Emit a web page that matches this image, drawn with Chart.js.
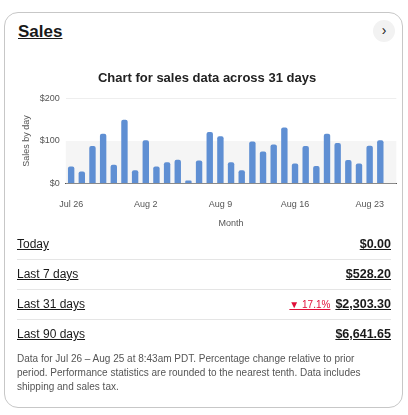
<!DOCTYPE html>
<html>
<head>
<meta charset="utf-8">
<script src="https://cdn.jsdelivr.net/npm/chart.js@4"></script>
<style>
  body { margin: 0; width: 408px; height: 415px; background: #fff; font-family: "Liberation Sans", Arial, sans-serif; color: #191919; position: relative; overflow: hidden; }
  .card { position: absolute; left: 4px; top: 12px; width: 397px; height: 394px; border: 1px solid #c7c7c7; border-radius: 14px; }
  .title { position: absolute; left: 13px; top: 9px; font-size: 17px; font-weight: bold; text-decoration: underline; }
  .btn { position: absolute; right: 7px; top: 7px; width: 22px; height: 22px; border-radius: 50%; background: #f2f2f2; font-size: 14px; text-align: center; line-height: 21px; }
  .chart { position: absolute; left: 12px; top: 58px; width: 382px; height: 162px; }
  .row { position: absolute; left: 12px; width: 374px; height: 30px; border-bottom: 1px solid #e5e5e5; font-size: 12px; display: flex; align-items: center; }
  .row span { text-decoration: underline; }
  .row .v { margin-left: auto; font-weight: bold; font-size: 12.5px; }
  .pct { color: #e0103a; font-size: 10px; font-weight: normal; margin-right: 5px; margin-left: auto; }
  .pct + .v { margin-left: 0; }
  .note { position: absolute; left: 12px; top: 339px; width: 365px; font-size: 10px; line-height: 14px; color: #555; }
</style>
</head>
<body>
<div class="card">
  <div class="title">Sales</div>
  <div class="btn">&#8250;</div>
  <div class="chart"><canvas id="salesChart"></canvas></div>
  <div class="row" style="top:216px"><span>Today</span><span class="v">$0.00</span></div>
  <div class="row" style="top:246px"><span>Last 7 days</span><span class="v">$528.20</span></div>
  <div class="row" style="top:276px"><span>Last 31 days</span><span class="pct">&#9660; 17.1%</span><span class="v">$2,303.30</span></div>
  <div class="row" style="top:306px; border-bottom:none"><span>Last 90 days</span><span class="v">$6,641.65</span></div>
  <div class="note">Data for Jul 26 – Aug 25 at 8:43am PDT. Percentage change relative to prior period. Performance statistics are rounded to the nearest tenth. Data includes shipping and sales tax.</div>
</div>
<script>
// Data
const days = ['Jul 26','Jul 27','Jul 28','Jul 29','Jul 30','Jul 31','Aug 1','Aug 2','Aug 3','Aug 4','Aug 5','Aug 6','Aug 7','Aug 8',
  'Aug 9','Aug 10','Aug 11','Aug 12','Aug 13','Aug 14','Aug 15','Aug 16','Aug 17','Aug 18','Aug 19','Aug 20','Aug 21','Aug 22',
  'Aug 23','Aug 24','Aug 25'];
const sales = [40, 28, 88, 117, 44, 150, 31, 102, 40, 50, 56, 7, 54, 121, 111, 50, 31, 99, 75, 92, 132, 47, 88, 41, 117, 95, 55, 47, 89, 102, 0];
const tickDays = ['Jul 26', 'Aug 2', 'Aug 9', 'Aug 16', 'Aug 23'];
const yTicks = [0, 100, 200];

// light band between $0 and $100
const bandPlugin = {
  id: 'band',
  beforeDatasetsDraw(chart) {
    const { ctx, chartArea, scales } = chart;
    const top = scales.y.getPixelForValue(100), bottom = scales.y.getPixelForValue(0);
    ctx.save();
    ctx.fillStyle = '#f5f5f5';
    ctx.fillRect(chartArea.left, top, chartArea.right - chartArea.left, bottom - top);
    ctx.restore();
  }
};

Chart.defaults.font.family = '"Liberation Sans", Arial, sans-serif';
Chart.defaults.color = '#555';

new Chart(document.getElementById('salesChart'), {
  type: 'bar',
  data: {
    labels: days,
    datasets: [{ data: sales, backgroundColor: '#5f8fd3', borderRadius: 2, barPercentage: 0.6, categoryPercentage: 1 }]
  },
  options: {
    responsive: true,
    maintainAspectRatio: false,
    animation: false,
    layout: { padding: { right: 2 } },
    plugins: {
      legend: { display: false },
      tooltip: { enabled: false },
      title: { display: true, text: 'Chart for sales data across 31 days', color: '#222', font: { size: 13, weight: 'bold' }, padding: { top: 0, bottom: 12 } }
    },
    scales: {
      x: {
        grid: { display: false },
        border: { color: '#444' },
        ticks: {
          autoSkip: false, maxRotation: 0, font: { size: 9 }, padding: 8,
          callback: (v, i) => tickDays.includes(days[i]) ? days[i] : ''
        },
        title: { display: true, text: 'Month', font: { size: 9 }, padding: { top: 0 } }
      },
      y: {
        min: 0, max: 200,
        afterBuildTicks: axis => { axis.ticks = yTicks.map(v => ({ value: v })); },
        grid: { color: ctx => ctx.tick.value === 200 ? '#eee' : 'transparent', drawTicks: false },
        border: { display: false },
        ticks: { font: { size: 9 }, padding: 6, callback: v => '$' + v },
        title: { display: true, text: 'Sales by day', font: { size: 9 }, padding: { bottom: 2 } }
      }
    }
  },
  plugins: [bandPlugin]
});
</script>
</body>
</html>
